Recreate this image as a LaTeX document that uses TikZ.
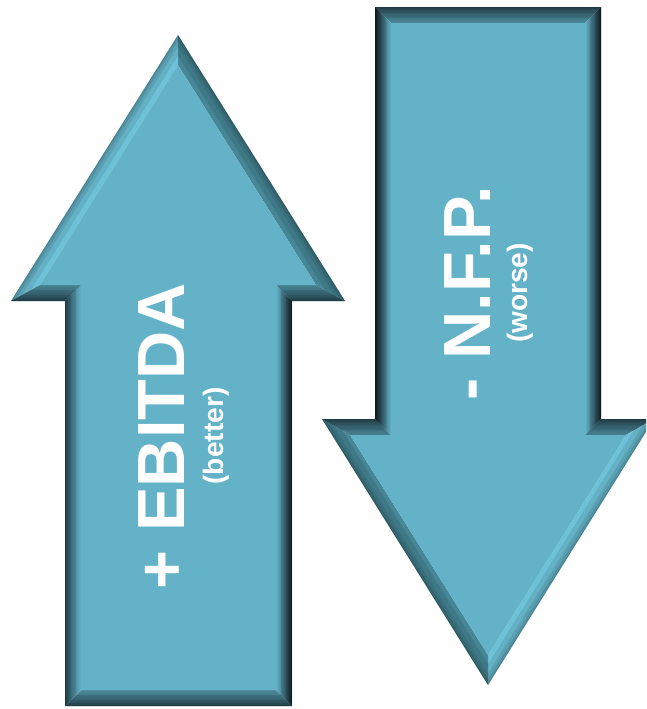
\documentclass[tikz,border=0pt]{standalone}
\usepackage{fontspec}
\setmainfont{Liberation Sans}
\usetikzlibrary{positioning}

\definecolor{arrowteal}{RGB}{99,178,200}
\definecolor{bevellight}{RGB}{110,194,216}
\definecolor{bevelshade}{RGB}{70,134,150}
\definecolor{beveldark}{RGB}{48,88,100}
\definecolor{bevelblack}{RGB}{22,38,44}

\tikzset{
  arrowlabel/.style={text=white, inner sep=0pt, rotate=90,
    font=\bfseries\fontsize{47.5}{50}\selectfont},
  arrownote/.style={text=white, inner sep=0pt, rotate=90,
    font=\bfseries\fontsize{20}{22}\selectfont},
  edgeshade/.style={draw=black, draw opacity=0.09, line join=miter},
}

\begin{document}
\begin{tikzpicture}[x=0.25mm, y=-0.25mm]
    \useasboundingbox (0,0) rectangle (646,709);
    \clip (0,0) rectangle (646,709);

    % Up arrow, outer and inner corners
    \coordinate (u1) at (178,35);
    \coordinate (u2) at (345,301);
    \coordinate (u3) at (292,301);
    \coordinate (u4) at (292,706);
    \coordinate (u5) at (65,706);
    \coordinate (u6) at (65,301);
    \coordinate (u7) at (11,301);
    \coordinate (v1) at (178,65);
    \coordinate (v2) at (316,285);
    \coordinate (v3) at (276,285);
    \coordinate (v4) at (276,690);
    \coordinate (v5) at (81,690);
    \coordinate (v6) at (81,285);
    \coordinate (v7) at (40,285);

    % Up arrow bevel
    \fill[bevellight] (u7) -- (u1) -- (v1) -- (v7) -- cycle;
    \fill[bevelshade] (u1) -- (u2) -- (v2) -- (v1) -- cycle;
    \shade[top color=arrowteal!45!beveldark, bottom color=beveldark] (u2) -- (u3) -- (v3) -- (v2) -- cycle;
    \shade[left color=arrowteal, right color=bevelblack] (u3) -- (u4) -- (v4) -- (v3) -- cycle;
    \shade[top color=arrowteal!55!beveldark, bottom color=beveldark] (u4) -- (u5) -- (v5) -- (v4) -- cycle;
    \shade[left color=beveldark, right color=arrowteal] (u5) -- (u6) -- (v6) -- (v5) -- cycle;
    \shade[top color=arrowteal!45!beveldark, bottom color=beveldark] (u6) -- (u7) -- (v7) -- (v6) -- cycle;
    \fill[arrowteal] (v1) -- (v2) -- (v3) -- (v4) -- (v5) -- (v6) -- (v7) -- cycle;
    \begin{scope}
        \clip (u1) -- (u2) -- (u3) -- (u4) -- (u5) -- (u6) -- (u7) -- cycle;
        \foreach \w in {22,12,6,2}
            \draw[edgeshade, line width=\w*0.25mm]
                (u1) -- (u2) -- (u3) -- (u4) -- (u5) -- (u6) -- (u7) -- cycle;
    \end{scope}

    % Down arrow, outer and inner corners
    \coordinate (d1) at (375,7);
    \coordinate (d2) at (601,7);
    \coordinate (d3) at (601,419);
    \coordinate (d4) at (654,419);
    \coordinate (d5) at (488,685);
    \coordinate (d6) at (322,419);
    \coordinate (d7) at (375,419);
    \coordinate (e1) at (391,23);
    \coordinate (e2) at (585,23);
    \coordinate (e3) at (585,435);
    \coordinate (e4) at (626,435);
    \coordinate (e5) at (488,655);
    \coordinate (e6) at (350,435);
    \coordinate (e7) at (391,435);

    % Down arrow bevel
    \shade[top color=beveldark, bottom color=arrowteal!55!beveldark] (d1) -- (d2) -- (e2) -- (e1) -- cycle;
    \shade[left color=arrowteal, right color=bevelblack] (d2) -- (d3) -- (e3) -- (e2) -- cycle;
    \shade[top color=beveldark, bottom color=arrowteal!45!beveldark] (d3) -- (d4) -- (e4) -- (e3) -- cycle;
    \fill[bevellight] (d4) -- (d5) -- (e5) -- (e4) -- cycle;
    \fill[bevelshade] (d5) -- (d6) -- (e6) -- (e5) -- cycle;
    \shade[top color=beveldark, bottom color=arrowteal!45!beveldark] (d6) -- (d7) -- (e7) -- (e6) -- cycle;
    \shade[left color=bevelblack, right color=arrowteal] (d7) -- (d1) -- (e1) -- (e7) -- cycle;
    \fill[arrowteal] (e1) -- (e2) -- (e3) -- (e4) -- (e5) -- (e6) -- (e7) -- cycle;
    \begin{scope}
        \clip (d1) -- (d2) -- (d3) -- (d4) -- (d5) -- (d6) -- (d7) -- cycle;
        \foreach \w in {22,12,6,2}
            \draw[edgeshade, line width=\w*0.25mm]
                (d1) -- (d2) -- (d3) -- (d4) -- (d5) -- (d6) -- (d7) -- cycle;
    \end{scope}

    % Labels
    \node[arrowlabel] (ebitda) at (162,436) {+ EBITDA};
    \node[arrownote, anchor=north] (better) at ([xshift=4.5mm]ebitda.south) {(better)};
    \node[arrowlabel] (nfp) at (468,293) {- N.F.P.};
    \node[arrownote, anchor=north] (worse) at ([xshift=4mm]nfp.south) {(worse)};
\end{tikzpicture}
\end{document}
